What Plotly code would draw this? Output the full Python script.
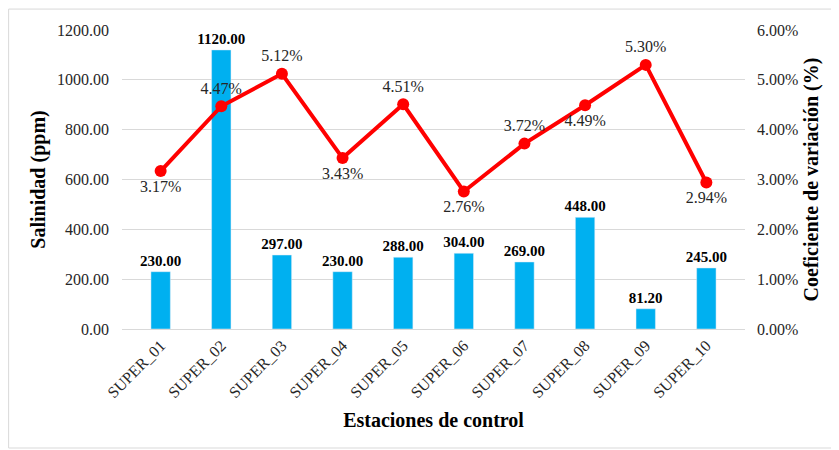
import plotly.graph_objects as go

estaciones = ['SUPER_01', 'SUPER_02', 'SUPER_03', 'SUPER_04', 'SUPER_05',
              'SUPER_06', 'SUPER_07', 'SUPER_08', 'SUPER_09', 'SUPER_10']
salinidad = [230.00, 1120.00, 297.00, 230.00, 288.00, 304.00, 269.00, 448.00, 81.20, 245.00]
coef_var = [3.17, 4.47, 5.12, 3.43, 4.51, 2.76, 3.72, 4.49, 5.30, 2.94]
pos_etiqueta = ['bottom center', 'top center', 'top center', 'bottom center', 'top center',
                'bottom center', 'top center', 'bottom center', 'top center', 'bottom center']

FONT = 'Liberation Serif'

fig = go.Figure()

fig.add_trace(go.Bar(
    x=estaciones,
    y=salinidad,
    marker_color='#00B0F0',
    width=0.32,
    text=[f'{v:.2f}' for v in salinidad],
    textposition='outside',
    constraintext='none',
    textfont=dict(family=FONT, size=15, color='black', weight='bold'),
    cliponaxis=False,
))

fig.add_trace(go.Scatter(
    x=estaciones,
    y=[v / 100 for v in coef_var],
    yaxis='y2',
    mode='lines+markers+text',
    line=dict(color='#FF0000', width=4),
    marker=dict(color='#FF0000', size=12),
    text=[f'{v:.2f}%' for v in coef_var],
    textposition=pos_etiqueta,
    textfont=dict(family=FONT, size=16, color='#262626'),
    cliponaxis=False,
))

# the page body has an 8px margin, so the figure is sized/placed to compensate
fig.update_layout(
    width=831, height=442,
    margin=dict(l=114, r=94, t=22, b=121),
    paper_bgcolor='white',
    plot_bgcolor='white',
    showlegend=False,
    font=dict(family=FONT, size=16, color='#262626'),
    bargap=0.68,
    xaxis=dict(
        tickangle=-45,
        showgrid=False, automargin=False,
        showline=True, linecolor='#d9d9d9', linewidth=1,
        ticks='',
        title=dict(text='<b>Estaciones de control</b>', font=dict(size=20, color='black'), standoff=12),
    ),
    yaxis=dict(
        range=[0, 1200], dtick=200, tickformat='.2f', automargin=False,
        showgrid=True, gridcolor='#d9d9d9', gridwidth=1,
        zeroline=False, ticks='', ticklabelstandoff=12,
        title=dict(text='<b>Salinidad (ppm)</b>', font=dict(size=20, color='black'), standoff=6),
    ),
    yaxis2=dict(
        range=[0, 0.06], dtick=0.01, tickformat='.2%', automargin=False,
        overlaying='y', side='right',
        showgrid=False, zeroline=False, ticks='', ticklabelstandoff=11,
        title=dict(text='<b>Coeficiente de variación (%)</b>', font=dict(size=20, color='black'), standoff=6),
    ),
    shapes=[dict(
        type='rect', xref='paper', yref='paper',
        x0=-0.182, x1=1.1445, y0=-0.398, y1=1.07,
        line=dict(color='#d9d9d9', width=1), layer='below',
    )],
)

fig.write_html('out.html')
